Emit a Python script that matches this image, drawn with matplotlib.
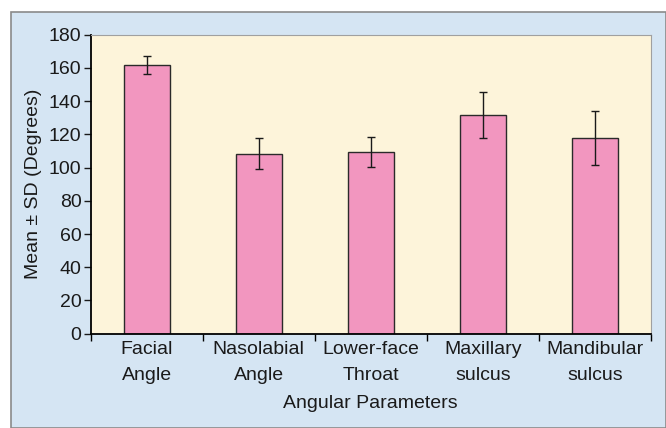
import matplotlib.pyplot as plt
from matplotlib.patches import Rectangle
import numpy as np

categories = ["Facial\nAngle", "Nasolabial\nAngle", "Lower-face\nThroat",
              "Maxillary\nsulcus", "Mandibular\nsulcus"]
means = [161.8, 108.4, 109.4, 131.7, 118.0]
sds = [5.5, 9.2, 9.0, 13.6, 16.2]
yticks = [0, 20, 40, 60, 80, 100, 120, 140, 160, 180]

plt.rcParams['font.family'] = ['Liberation Sans', 'DejaVu Sans']

fig = plt.figure(figsize=(6.66, 4.28), dpi=100, facecolor="white")

# light blue frame behind the chart
frame = Rectangle((11 / 666, 0), 1 - 11 / 666, (428 - 12) / 428,
                  transform=fig.transFigure, facecolor="#d5e5f3",
                  edgecolor="#8a8a8a", linewidth=1.2, zorder=-10)
fig.add_artist(frame)

ax = fig.add_axes([90.5 / 666, (428 - 333.7) / 428,
                   (651 - 90.5) / 666, (333.7 - 34.7) / 428])
ax.set_zorder(1)
ax.set_facecolor("#fdf4da")

x = np.arange(len(categories))
ax.bar(x, means, width=0.41, color="#f296bf", edgecolor="#2a2a2a",
       linewidth=1.0, zorder=2)
ax.errorbar(x, means, yerr=sds, fmt="none", ecolor="#1a1a1a",
            elinewidth=1.0, capsize=3, capthick=1.0, zorder=3)

ax.set_xlim(-0.5, len(categories) - 0.5)
ax.set_ylim(0, 180)
ax.set_yticks(yticks)
ax.tick_params(axis="y", direction="out", length=5, width=1,
               labelsize=14, pad=1.5, colors="#1a1a1a")

ax.set_xticks(x)
ax.set_xticklabels(categories, fontsize=14, linespacing=1.7,
                   color="#1a1a1a")
ax.tick_params(axis="x", which="major", length=0, pad=5)
ax.set_xticks(np.arange(-0.5, len(categories)), minor=True)
ax.tick_params(axis="x", which="minor", direction="out", length=5, width=1)

for side in ["top", "right"]:
    ax.spines[side].set_color("#a0a0a0")
    ax.spines[side].set_linewidth(0.8)
for side in ["left", "bottom"]:
    ax.spines[side].set_color("black")
    ax.spines[side].set_linewidth(1.3)

ax.set_ylabel("Mean ± SD (Degrees)", fontsize=14, labelpad=5, color="#1a1a1a")
ax.set_xlabel("Angular Parameters", fontsize=14, labelpad=8, color="#1a1a1a")

fig.savefig("out.png", dpi=100, facecolor=fig.get_facecolor())
